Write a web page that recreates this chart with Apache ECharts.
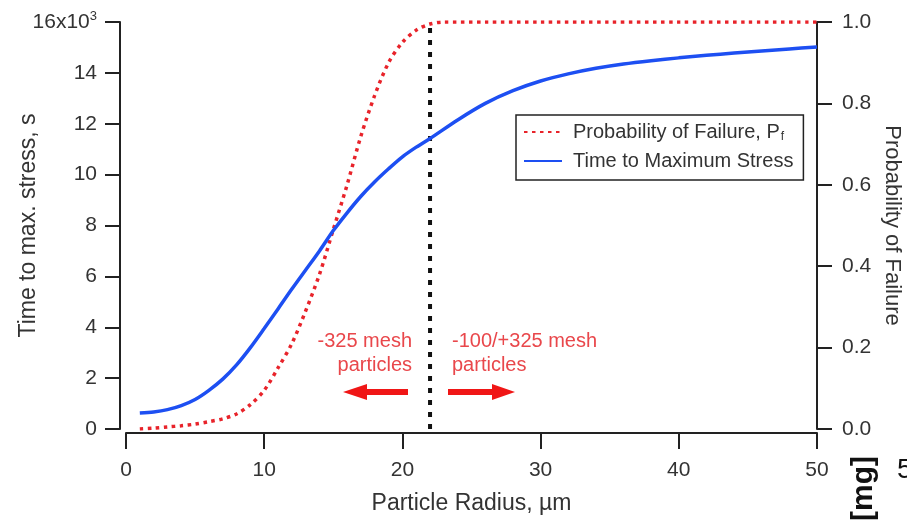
<!DOCTYPE html>
<html>
<head>
<meta charset="utf-8">
<script src="https://cdn.jsdelivr.net/npm/echarts@6/dist/echarts.min.js"></script>
<style>
  html, body { margin: 0; padding: 0; background: #fff; }
  #chart { width: 907px; height: 521px; }
</style>
</head>
<body>
<div id="chart"></div>
<script>
// particle radius (um) for the stress curve
const radius = [1, 2, 3, 4, 5, 6, 7, 8, 9, 10, 11, 12, 13, 14, 15, 16, 17, 18, 19, 20, 21, 22,
  24, 26, 28, 30, 32, 34, 36, 38, 40, 42, 44, 46, 48, 50];
// time to maximum stress, s
const timeToMaxStress = [630, 670, 760, 920, 1160, 1520, 1960, 2520, 3200, 3950, 4720, 5500,
  6250, 7000, 7800, 8500, 9150, 9720, 10230, 10700, 11080, 11420,
  12150, 12800, 13300, 13680, 13960, 14180, 14350, 14480, 14590, 14690, 14780, 14860, 14940, 15020];

// probability of failure
const failRadius = [1, 2, 3, 4, 5, 6, 7, 8, 9, 10, 11, 12, 13, 14, 15, 16, 17, 18, 19, 20, 21, 22, 23,
  26, 30, 35, 40, 45, 50];
const failProb = [0, 0.002, 0.005, 0.008, 0.012, 0.018, 0.025, 0.037, 0.06, 0.095, 0.15, 0.21,
  0.29, 0.38, 0.49, 0.6, 0.72, 0.82, 0.9, 0.95, 0.98, 0.995, 1, 1, 1, 1, 1, 1, 1];

// mesh cut-off radius
const cutoff = 22;

const xTicks = [0, 10, 20, 30, 40, 50];
const leftTicks = ['0', '2', '4', '6', '8', '10', '12', '14', '16x10{sup|3}'];
const rightTicks = ['0.0', '0.2', '0.4', '0.6', '0.8', '1.0'];

const FONT = "'Liberation Sans', Arial, sans-serif";
const TXT = '#333';
const AX = '#222';

const chart = echarts.init(document.getElementById('chart'));

chart.setOption({
  animation: false,
  textStyle: { fontFamily: FONT },
  grid: { left: 126, right: 90, top: 22, bottom: 92, outerBoundsMode: 'none' },
  legend: {
    data: ['Probability of Failure, Pf', 'Time to Maximum Stress'],
    orient: 'vertical',
    left: 516,
    top: 115,
    padding: [7, 10, 9, 7],
    itemGap: 8,
    itemWidth: 38,
    itemHeight: 14,
    borderColor: AX,
    borderWidth: 1.5,
    itemStyle: { opacity: 0 },
    formatter: function(name) {
      return name === 'Probability of Failure, Pf' ? 'Probability of Failure, P{sub|f}' : name;
    },
    textStyle: {
      fontFamily: FONT,
      fontSize: 20,
      color: TXT,
      padding: [0, 0, 0, 6],
      rich: {
        sub: { fontSize: 12, padding: [10, 0, 0, 1], color: TXT }
      }
    }
  },
  xAxis: {
    type: 'value',
    min: 0,
    max: 50,
    interval: 10,
    offset: 4,
    name: 'Particle Radius, \u00b5m',
    nameLocation: 'middle',
    nameGap: 59,
    nameMoveOverlap: false,
    nameTextStyle: { fontSize: 23, color: TXT, fontFamily: FONT },
    splitLine: { show: false },
    axisLine: { onZero: false, lineStyle: { color: AX, width: 2 } },
    axisTick: { length: 16, lineStyle: { color: AX, width: 2 } },
    axisLabel: {
      fontSize: 21,
      color: TXT,
      margin: 27,
      formatter: function(v) { return xTicks.indexOf(v) >= 0 ? String(v) : ''; }
    }
  },
  yAxis: [
    {
      type: 'value',
      min: 0,
      max: 16000,
      interval: 2000,
      offset: 6,
      position: 'left',
      name: 'Time to max. stress, s',
      nameLocation: 'middle',
      nameGap: 80,
      nameMoveOverlap: false,
      nameTextStyle: { fontSize: 23, color: TXT, fontFamily: FONT },
      splitLine: { show: false },
      axisLine: { show: true, onZero: false, lineStyle: { color: AX, width: 2 } },
      axisTick: { show: true, length: 15, lineStyle: { color: AX, width: 2 } },
      axisLabel: {
        fontSize: 21,
        color: TXT,
        margin: 23,
        formatter: function(v) { return leftTicks[Math.round(v / 2000)]; },
        rich: {
          sup: { fontSize: 13, color: TXT, padding: [0, 0, 12, 0] }
        }
      }
    },
    {
      type: 'value',
      min: 0,
      max: 1,
      interval: 0.2,
      position: 'right',
      name: 'Probability of Failure',
      nameLocation: 'middle',
      nameRotate: -90,
      nameGap: 64,
      nameMoveOverlap: false,
      nameTextStyle: { fontSize: 22, color: TXT, fontFamily: FONT },
      splitLine: { show: false },
      axisLine: { show: true, onZero: false, lineStyle: { color: AX, width: 2 } },
      axisTick: { show: true, length: 15, lineStyle: { color: AX, width: 2 } },
      axisLabel: {
        fontSize: 21,
        color: TXT,
        margin: 25,
        formatter: function(v) { return rightTicks[Math.round(v / 0.2)]; }
      }
    }
  ],
  series: [
    {
      name: 'Probability of Failure, Pf',
      type: 'line',
      yAxisIndex: 1,
      symbol: 'none',
      smooth: 0.3,
      data: failRadius.map((r, i) => [r, failProb[i]]),
      lineStyle: { color: '#e8232a', width: 3.5, type: [3.5, 4.5] },
      itemStyle: { color: '#e8232a', opacity: 0 },
      z: 2
    },
    {
      name: 'Time to Maximum Stress',
      type: 'line',
      yAxisIndex: 0,
      symbol: 'none',
      smooth: 0.3,
      data: radius.map((r, i) => [r, timeToMaxStress[i]]),
      lineStyle: { color: '#1d4ff2', width: 3.5 },
      itemStyle: { color: '#1d4ff2', opacity: 0 },
      z: 3
    },
    {
      name: 'cutoff',
      type: 'line',
      yAxisIndex: 1,
      symbol: 'none',
      data: [[cutoff, 0], [cutoff, 1]],
      lineStyle: { color: '#111', width: 4, type: [5, 7] },
      z: 1
    }
  ],
  graphic: [
    {
      type: 'text',
      x: 412, y: 329,
      style: {
        text: '-325 mesh\nparticles',
        font: '20px ' + FONT,
        fill: '#e9474b',
        textAlign: 'right',
        lineHeight: 24
      }
    },
    {
      type: 'text',
      x: 452, y: 329,
      style: {
        text: '-100/+325 mesh\nparticles',
        font: '20px ' + FONT,
        fill: '#e9474b',
        textAlign: 'left',
        lineHeight: 24
      }
    },
    {
      type: 'polygon',
      shape: { points: [[343, 392], [367, 384], [367, 389], [408, 389], [408, 395], [367, 395], [367, 400]] },
      style: { fill: '#f01616' }
    },
    {
      type: 'polygon',
      shape: { points: [[515, 392], [492, 384], [492, 389], [448, 389], [448, 395], [492, 395], [492, 400]] },
      style: { fill: '#f01616' }
    },
    {
      type: 'text',
      x: 864, y: 456,
      rotation: Math.PI / 2,
      style: {
        text: '[mg]',
        font: 'bold 30px ' + FONT,
        fill: '#111',
        textAlign: 'right',
        textVerticalAlign: 'middle'
      }
    },
    {
      type: 'text',
      x: 897, y: 456,
      style: {
        text: '5',
        font: '28px ' + FONT,
        fill: '#111',
        textAlign: 'left'
      }
    }
  ]
});
</script>
</body>
</html>
